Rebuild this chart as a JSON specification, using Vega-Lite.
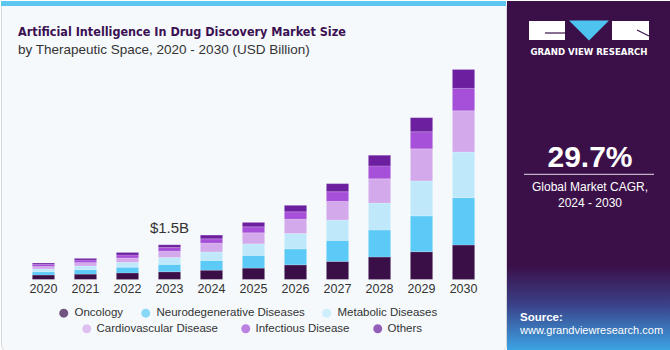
{
  "$schema": "https://vega.github.io/schema/vega-lite/v6.json",
  "padding": 0,
  "spacing": 0,
  "background": "#ffffff",
  "config": {
    "view": {"stroke": null},
    "font": "Liberation Sans",
    "axisQuantitative": {"disable": true}
  },
  "resolve": {"scale": {"x": "independent", "y": "independent", "color": "independent", "fill": "independent", "stroke": "independent"}},
  "datasets": {
    "market": [
      {"year": "2020", "category": "Oncology", "value": 0.19},
      {"year": "2020", "category": "Neurodegenerative Diseases", "value": 0.14},
      {"year": "2020", "category": "Metabolic Diseases", "value": 0.12},
      {"year": "2020", "category": "Cardiovascular Disease", "value": 0.11},
      {"year": "2020", "category": "Infectious Disease", "value": 0.10},
      {"year": "2020", "category": "Others", "value": 0.05},
      {"year": "2021", "category": "Oncology", "value": 0.23},
      {"year": "2021", "category": "Neurodegenerative Diseases", "value": 0.19},
      {"year": "2021", "category": "Metabolic Diseases", "value": 0.16},
      {"year": "2021", "category": "Cardiovascular Disease", "value": 0.15},
      {"year": "2021", "category": "Infectious Disease", "value": 0.11},
      {"year": "2021", "category": "Others", "value": 0.07},
      {"year": "2022", "category": "Oncology", "value": 0.28},
      {"year": "2022", "category": "Neurodegenerative Diseases", "value": 0.25},
      {"year": "2022", "category": "Metabolic Diseases", "value": 0.21},
      {"year": "2022", "category": "Cardiovascular Disease", "value": 0.19},
      {"year": "2022", "category": "Infectious Disease", "value": 0.13},
      {"year": "2022", "category": "Others", "value": 0.11},
      {"year": "2023", "category": "Oncology", "value": 0.33},
      {"year": "2023", "category": "Neurodegenerative Diseases", "value": 0.32},
      {"year": "2023", "category": "Metabolic Diseases", "value": 0.30},
      {"year": "2023", "category": "Cardiovascular Disease", "value": 0.27},
      {"year": "2023", "category": "Infectious Disease", "value": 0.16},
      {"year": "2023", "category": "Others", "value": 0.12},
      {"year": "2024", "category": "Oncology", "value": 0.40},
      {"year": "2024", "category": "Neurodegenerative Diseases", "value": 0.42},
      {"year": "2024", "category": "Metabolic Diseases", "value": 0.37},
      {"year": "2024", "category": "Cardiovascular Disease", "value": 0.38},
      {"year": "2024", "category": "Infectious Disease", "value": 0.19},
      {"year": "2024", "category": "Others", "value": 0.16},
      {"year": "2025", "category": "Oncology", "value": 0.49},
      {"year": "2025", "category": "Neurodegenerative Diseases", "value": 0.55},
      {"year": "2025", "category": "Metabolic Diseases", "value": 0.50},
      {"year": "2025", "category": "Cardiovascular Disease", "value": 0.48},
      {"year": "2025", "category": "Infectious Disease", "value": 0.26},
      {"year": "2025", "category": "Others", "value": 0.19},
      {"year": "2026", "category": "Oncology", "value": 0.63},
      {"year": "2026", "category": "Neurodegenerative Diseases", "value": 0.69},
      {"year": "2026", "category": "Metabolic Diseases", "value": 0.67},
      {"year": "2026", "category": "Cardiovascular Disease", "value": 0.62},
      {"year": "2026", "category": "Infectious Disease", "value": 0.32},
      {"year": "2026", "category": "Others", "value": 0.28},
      {"year": "2027", "category": "Oncology", "value": 0.78},
      {"year": "2027", "category": "Neurodegenerative Diseases", "value": 0.91},
      {"year": "2027", "category": "Metabolic Diseases", "value": 0.88},
      {"year": "2027", "category": "Cardiovascular Disease", "value": 0.81},
      {"year": "2027", "category": "Infectious Disease", "value": 0.42},
      {"year": "2027", "category": "Others", "value": 0.35},
      {"year": "2028", "category": "Oncology", "value": 0.97},
      {"year": "2028", "category": "Neurodegenerative Diseases", "value": 1.17},
      {"year": "2028", "category": "Metabolic Diseases", "value": 1.17},
      {"year": "2028", "category": "Cardiovascular Disease", "value": 1.05},
      {"year": "2028", "category": "Infectious Disease", "value": 0.56},
      {"year": "2028", "category": "Others", "value": 0.46},
      {"year": "2029", "category": "Oncology", "value": 1.20},
      {"year": "2029", "category": "Neurodegenerative Diseases", "value": 1.55},
      {"year": "2029", "category": "Metabolic Diseases", "value": 1.52},
      {"year": "2029", "category": "Cardiovascular Disease", "value": 1.39},
      {"year": "2029", "category": "Infectious Disease", "value": 0.74},
      {"year": "2029", "category": "Others", "value": 0.61},
      {"year": "2030", "category": "Oncology", "value": 1.49},
      {"year": "2030", "category": "Neurodegenerative Diseases", "value": 2.05},
      {"year": "2030", "category": "Metabolic Diseases", "value": 1.98},
      {"year": "2030", "category": "Cardiovascular Disease", "value": 1.79},
      {"year": "2030", "category": "Infectious Disease", "value": 0.97},
      {"year": "2030", "category": "Others", "value": 0.82}
    ]
  },
  "hconcat": [
    {
      "width": 505,
      "height": 350,
      "view": {"fill": "#f5f9fc", "stroke": "#d3d7da", "cornerRadius": 6},
      "title": {
        "text": "Artificial Intelligence In Drug Discovery Market Size",
        "subtitle": "by Therapeutic Space, 2020 - 2030 (USD Billion)",
        "anchor": "start",
        "frame": "group",
        "font": "DejaVu Sans Condensed",
        "fontSize": 12.5,
        "fontWeight": "bold",
        "color": "#3b1052",
        "subtitleFont": "Liberation Sans",
        "subtitleFontSize": 13.5,
        "subtitleColor": "#333333",
        "subtitlePadding": 4,
        "offset": 0,
        "dx": 17,
        "dy": 55
      },
      "layer": [
        {
          "data": {"values": [{"band": "top"}]},
          "mark": {"type": "rect", "color": "#5cc6ef"},
          "encoding": {
            "y": {"datum": 12.068, "type": "quantitative", "scale": {"domain": [-3.104, 12.068], "nice": false, "zero": false}, "axis": null},
            "y2": {"datum": 11.85}
          }
        },
        {
          "data": {"name": "market"},
          "transform": [
            {"calculate": "indexof(['Oncology', 'Neurodegenerative Diseases', 'Metabolic Diseases', 'Cardiovascular Disease', 'Infectious Disease', 'Others'], datum.category)", "as": "stackOrder"}
          ],
          "mark": {"type": "bar", "stroke": "#ffffff", "strokeWidth": 0.5, "strokeOpacity": 0.35},
          "encoding": {
            "x": {
              "field": "year", "type": "ordinal",
              "scale": {"paddingInner": 0.47, "paddingOuter": 0.746},
              "axis": {"title": null, "domain": false, "ticks": false, "grid": false, "labelAngle": 0, "labelPadding": 3, "offset": -71.6, "labelFontSize": 12.5, "labelColor": "#333333", "labelFont": "Liberation Sans"}
            },
            "y": {"field": "value", "type": "quantitative", "stack": "zero", "scale": {"domain": [-3.104, 12.068], "nice": false, "zero": false}, "axis": null},
            "color": {
              "field": "category", "type": "nominal",
              "scale": {
                "domain": ["Oncology", "Neurodegenerative Diseases", "Metabolic Diseases", "Cardiovascular Disease", "Infectious Disease", "Others"],
                "range": ["#3a0f48", "#5ccaf6", "#bfe9fb", "#d4a9ec", "#a64fd8", "#6c1f9e"]
              },
              "legend": null
            },
            "order": {"field": "stackOrder", "type": "quantitative", "sort": "ascending"}
          }
        },
        {
          "data": {"name": "market"},
          "transform": [{"filter": "false"}],
          "mark": {"type": "point", "filled": true},
          "encoding": {
            "x": {"field": "year", "type": "ordinal"},
            "y": {"field": "value", "type": "quantitative"},
            "fill": {
              "field": "category", "type": "nominal",
              "scale": {"domain": ["Oncology", "Neurodegenerative Diseases", "Metabolic Diseases"], "range": ["#3a0f48", "#5ccaf6", "#bfe9fb"]},
              "legend": {"orient": "none", "legendX": 57, "legendY": 306, "direction": "horizontal", "title": null, "symbolType": "circle", "symbolSize": 81, "symbolStrokeWidth": 0, "labelFontSize": 11.5, "labelFont": "Liberation Sans", "labelColor": "#333333", "labelOffset": 5, "columnPadding": 16}
            }
          }
        },
        {
          "data": {"name": "market"},
          "transform": [{"filter": "false"}],
          "mark": {"type": "point", "filled": false},
          "encoding": {
            "x": {"field": "year", "type": "ordinal"},
            "y": {"field": "value", "type": "quantitative"},
            "stroke": {
              "field": "category", "type": "nominal",
              "scale": {"domain": ["Cardiovascular Disease", "Infectious Disease", "Others"], "range": ["#d4a9ec", "#a64fd8", "#6c1f9e"]},
              "legend": {"orient": "none", "legendX": 80, "legendY": 322, "direction": "horizontal", "title": null, "symbolType": "circle", "symbolSize": 20, "symbolStrokeWidth": 4.5, "labelFontSize": 11.5, "labelFont": "Liberation Sans", "labelColor": "#333333", "labelOffset": 4, "columnPadding": 16}
            }
          }
        },
        {
          "data": {"values": [{"year": "2023", "total": 1.5, "label": "$1.5B"}]},
          "mark": {"type": "text", "fontSize": 15, "color": "#333333", "baseline": "alphabetic", "align": "center", "dy": -11.4, "font": "Liberation Sans"},
          "encoding": {
            "x": {"field": "year", "type": "ordinal"},
            "y": {"field": "total", "type": "quantitative"},
            "text": {"field": "label"}
          }
        }
      ]
    },
    {
      "width": 165,
      "height": 350,
      "view": {"fill": "#3b1049", "stroke": null},
      "layer": [
        {
          "data": {"values": [{"part": "bottom glow"}]},
          "mark": {"type": "rect", "color": {"gradient": "linear", "x1": 0, "y1": 0, "x2": 0, "y2": 1, "stops": [{"offset": 0, "color": "#3b1049"}, {"offset": 0.45, "color": "#3a4088"}, {"offset": 1, "color": "#3ca6e6"}]}},
          "encoding": {
            "x": {"datum": 0, "type": "quantitative", "scale": {"domain": [0, 165], "nice": false, "zero": false}, "axis": null},
            "x2": {"datum": 165},
            "y": {"datum": 265, "type": "quantitative", "scale": {"domain": [0, 350], "reverse": true, "nice": false, "zero": false}, "axis": null},
            "y2": {"datum": 350}
          }
        },
        {
          "data": {"values": [{"part": "logo left"}]},
          "mark": {"type": "rect", "color": "#ffffff"},
          "encoding": {"x": {"datum": 22, "type": "quantitative"}, "x2": {"datum": 58}, "y": {"datum": 20, "type": "quantitative"}, "y2": {"datum": 39}}
        },
        {
          "data": {"values": [{"part": "logo right"}]},
          "mark": {"type": "rect", "color": "#ffffff"},
          "encoding": {"x": {"datum": 105, "type": "quantitative"}, "x2": {"datum": 142}, "y": {"datum": 20, "type": "quantitative"}, "y2": {"datum": 39}}
        },
        {
          "data": {"values": [{"part": "logo G stroke"}]},
          "mark": {"type": "rule", "color": "#3b1049", "strokeWidth": 1.2},
          "encoding": {"x": {"datum": 38, "type": "quantitative"}, "x2": {"datum": 58}, "y": {"datum": 32, "type": "quantitative"}, "y2": {"datum": 32}}
        },
        {
          "data": {"values": [{"part": "logo R stroke"}]},
          "mark": {"type": "rule", "color": "#3b1049", "strokeWidth": 1.2},
          "encoding": {"x": {"datum": 130, "type": "quantitative"}, "x2": {"datum": 142}, "y": {"datum": 29, "type": "quantitative"}, "y2": {"datum": 35}}
        },
        {
          "data": {"values": [{"part": "logo triangle"}]},
          "mark": {"type": "point", "filled": true, "shape": "M-1,-0.5L1,-0.5L0,0.5Z", "size": 1600, "color": "#4fc3f0", "opacity": 1},
          "encoding": {"x": {"datum": 82, "type": "quantitative"}, "y": {"datum": 29.5, "type": "quantitative"}}
        },
        {
          "data": {"values": [{"label": "GRAND VIEW RESEARCH"}]},
          "mark": {"type": "text", "font": "DejaVu Sans", "fontWeight": "bold", "fontSize": 8.6, "color": "#ffffff", "align": "center", "baseline": "middle"},
          "encoding": {"text": {"field": "label"}, "x": {"datum": 82, "type": "quantitative"}, "y": {"datum": 50.5, "type": "quantitative"}}
        },
        {
          "data": {"values": [{"label": "29.7%"}]},
          "mark": {"type": "text", "font": "Liberation Sans", "fontWeight": "bold", "fontSize": 30, "color": "#ffffff", "align": "center", "baseline": "alphabetic"},
          "encoding": {"text": {"field": "label"}, "x": {"datum": 83, "type": "quantitative"}, "y": {"datum": 165.7, "type": "quantitative"}}
        },
        {
          "data": {"values": [{"part": "divider"}]},
          "mark": {"type": "rule", "color": "#ffffff", "strokeWidth": 1, "opacity": 0.85},
          "encoding": {"x": {"datum": 17, "type": "quantitative"}, "x2": {"datum": 147}, "y": {"datum": 173.3, "type": "quantitative"}}
        },
        {
          "data": {"values": [{"label": "Global Market CAGR,\n2024 - 2030"}]},
          "mark": {"type": "text", "font": "Liberation Sans", "fontSize": 12, "color": "#ffffff", "align": "center", "baseline": "alphabetic", "lineBreak": "\n", "lineHeight": 16.5},
          "encoding": {"text": {"field": "label"}, "x": {"datum": 83, "type": "quantitative"}, "y": {"datum": 189.5, "type": "quantitative"}}
        },
        {
          "data": {"values": [{"label": "Source:"}]},
          "mark": {"type": "text", "font": "Liberation Sans", "fontWeight": "bold", "fontSize": 11.5, "color": "#ffffff", "align": "left", "baseline": "alphabetic"},
          "encoding": {"text": {"field": "label"}, "x": {"datum": 13, "type": "quantitative"}, "y": {"datum": 320, "type": "quantitative"}}
        },
        {
          "data": {"values": [{"label": "www.grandviewresearch.com"}]},
          "mark": {"type": "text", "font": "Liberation Sans", "fontSize": 11, "color": "#ffffff", "align": "left", "baseline": "alphabetic"},
          "encoding": {"text": {"field": "label"}, "x": {"datum": 13, "type": "quantitative"}, "y": {"datum": 333, "type": "quantitative"}}
        }
      ]
    }
  ]
}
